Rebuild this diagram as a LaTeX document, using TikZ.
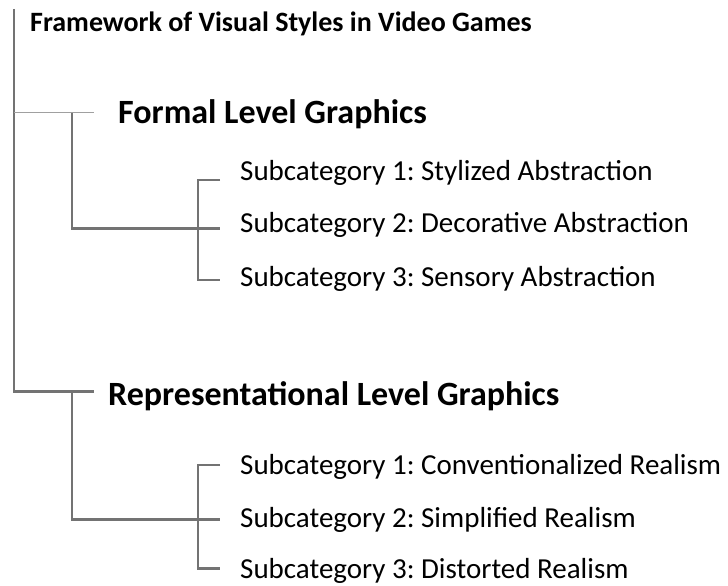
\documentclass[tikz,border=0pt]{standalone}
\usepackage{fontspec}
\setmainfont{Carlito}
\usepackage{tikz}
\frenchspacing

\definecolor{linegray}{RGB}{115,115,115}
\definecolor{thingray}{RGB}{160,160,160}

\tikzset{
    title/.style={anchor=base west, inner sep=0pt, font=\fontsize{28}{32}\selectfont\bfseries},
    head/.style={anchor=base west, inner sep=0pt, font=\fontsize{34}{40}\selectfont\bfseries},
    sub/.style={anchor=base west, inner sep=0pt, font=\fontsize{29}{34}\selectfont},
    branch/.style={draw=linegray, line width=2.6pt},
    thinbranch/.style={draw=thingray, line width=1pt}
}

\begin{document}
\begin{tikzpicture}[x=1pt,y=-1pt]
    \useasboundingbox (0,0) rectangle (728,586);
    % headings
    \node[title] (title) at (30,31.7) {Framework of Visual Styles in Video Games};
    \node[head] (formal) at (118,123.3) {Formal Level Graphics};
    \node[head] (repr) at (108,405) {Representational Level Graphics};
    % subcategories
    \node[sub] (f1) at (240,180.5) {Subcategory 1: Stylized Abstraction};
    \node[sub] (f2) at (240,232.5) {Subcategory 2: Decorative Abstraction};
    \node[sub] (f3) at (240,286) {Subcategory 3: Sensory Abstraction};
    \node[sub] (r1) at (240,474) {Subcategory 1: Conventionalized Realism};
    \node[sub] (r2) at (240,527.5) {Subcategory 2: Simplified Realism};
    \node[sub] (r3) at (240,578.5) {Subcategory 3: Distorted Realism};
    % junctions
    \coordinate (root) at (14,9);
    \coordinate (fend) at (94,112.7);
    \coordinate (rend) at (94,391.7);
    \coordinate (fjoin) at (72,112.7);
    \coordinate (rjoin) at (72,391.7);
    \coordinate (fa) at (220,180); \coordinate (fb) at (220,228.5); \coordinate (fc) at (220,280);
    \coordinate (ra) at (220,465); \coordinate (rb) at (220,519.3); \coordinate (rc) at (220,568.3);
    % tree
    \draw[branch] (root) -- (root |- rend) -- (rend);
    \draw[thinbranch] (root |- fend) -- (fend);
    \draw[branch] (fjoin) -- (fjoin |- fb) -- (fb);
    \draw[branch] (rjoin) -- (rjoin |- rb) -- (rb);
    \draw[branch] (fa) -- (198,180) -- (198,280) -- (fc);
    \draw[branch] (ra) -- (198,465) -- (198,568.3) -- (rc);
\end{tikzpicture}
\end{document}
